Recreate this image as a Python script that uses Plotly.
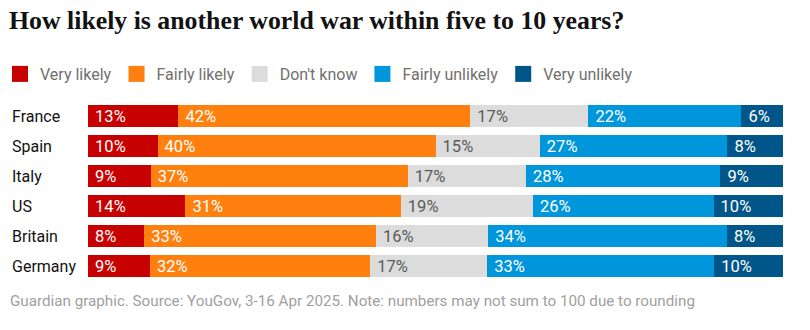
import plotly.graph_objects as go

countries = ["France", "Spain", "Italy", "US", "Britain", "Germany"]
series_names = ["Very likely", "Fairly likely", "Don't know", "Fairly unlikely", "Very unlikely"]
very_likely = [13, 10, 9, 14, 8, 9]
fairly_likely = [42, 40, 37, 31, 33, 32]
dont_know = [17, 15, 17, 19, 16, 17]
fairly_unlikely = [22, 27, 28, 26, 34, 33]
very_unlikely = [6, 8, 9, 10, 8, 10]

title_text = "How likely is another world war within five to 10 years?"
footer_text = "Guardian graphic. Source: YouGov, 3-16 Apr 2025. Note: numbers may not sum to 100 due to rounding"

colors = ["#c70000", "#ff7f0f", "#dcdcdc", "#0096db", "#005689"]
text_colors = ["#ffffff", "#ffffff", "#5a5a5a", "#ffffff", "#ffffff"]
values = [very_likely, fairly_likely, dont_know, fairly_unlikely, very_unlikely]

SANS = "Roboto, 'Noto Sans', sans-serif"

fig = go.Figure()
for name, vals, col, tcol in zip(series_names, values, colors, text_colors):
    fig.add_trace(go.Bar(
        y=countries, x=vals, name=name, orientation="h",
        marker=dict(color=col, line=dict(width=0)),
        text=[f" {v}%" for v in vals],
        textposition="inside", insidetextanchor="start", constraintext="none",
        textfont=dict(color=tcol, size=16.5, family=SANS),
        hoverinfo="skip", showlegend=False,
    ))
# legend-only entries with larger square swatches
for name, col in zip(series_names, colors):
    fig.add_trace(go.Scatter(
        x=[None], y=[None], mode="markers", name=name,
        marker=dict(symbol="square", size=16, color=col, line=dict(width=0)),
        hoverinfo="skip", showlegend=True,
    ))

W, H = 810, 330
ml, mr, mt, mb = 88, 27, 101, 49
pw = W - ml - mr
ph = H - mt - mb

annotations = []
for c in countries:
    annotations.append(dict(
        x=-(ml - 10) / pw, xref="paper", y=c, yref="y",
        text=c, showarrow=False, xanchor="left", yanchor="middle",
        font=dict(size=16, color="#121212", family=SANS),
    ))
annotations.append(dict(
    x=-(ml - 8) / pw, xref="paper", y=-(301 - (mt + ph)) / ph, yref="paper",
    text=footer_text, showarrow=False, xanchor="left", yanchor="middle",
    font=dict(size=15.2, color="#a0a0a0", family=SANS),
))
annotations.append(dict(
    x=-(ml - 7) / pw, xref="paper", y=(mt + ph - 20) / ph, yref="paper",
    text="<b>" + title_text + "</b>", showarrow=False, xanchor="left", yanchor="middle",
    font=dict(size=25.8, color="#121212", family="'Liberation Serif', serif"),
))

fig.update_layout(
    width=W, height=H,
    margin=dict(l=ml, r=mr, t=mt, b=mb, pad=0, autoexpand=False),
    barmode="stack", barnorm="percent", bargap=0.27,
    plot_bgcolor="white", paper_bgcolor="white",
    showlegend=True,
    legend=dict(
        orientation="h", xref="container", yref="container",
        x=-3 / W, xanchor="left",
        y=1 - 74 / H, yanchor="middle",
        font=dict(size=16, color="#707070", family=SANS),
        traceorder="normal", itemwidth=30, itemclick=False, itemsizing="trace",
    ),
    xaxis=dict(visible=False, range=[0, 100], fixedrange=True),
    yaxis=dict(visible=False, autorange="reversed", fixedrange=True, type="category"),
    annotations=annotations,
)

fig.write_html("out.html")
